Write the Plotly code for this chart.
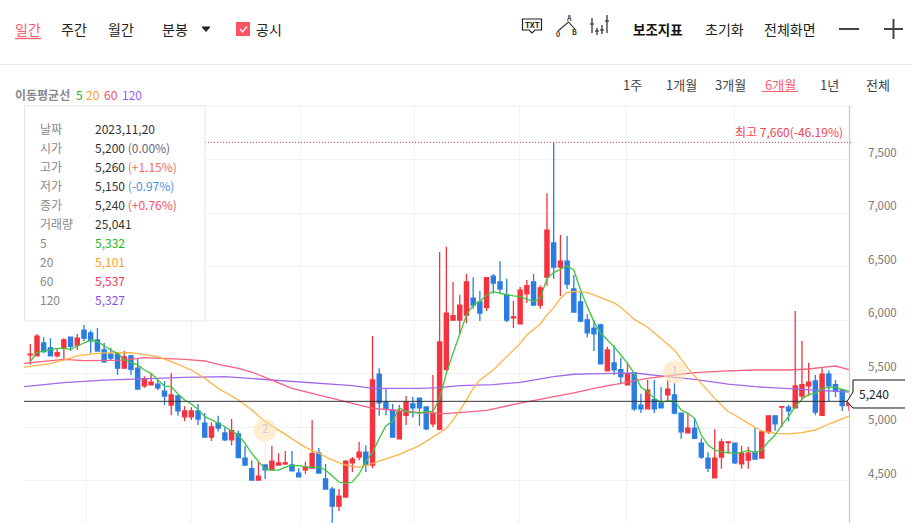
import plotly.graph_objects as go

# ---------- candle data (won) ----------
sessions = list(range(1, 124))
opens = [5675,5665,5785,5740,5665,5740,5840,5765,5905,5880,5815,5720,5680,5680,5550,5665,5550,5385,5395,5400,
         5335,5205,5290,5095,5095,5150,5035,4905,5035,4945,4880,4935,4710,4610,4505,4645,4600,4645,4655,4645,
         4570,4600,4615,4755,4515,4420,4260,4345,4665,4720,4765,4645,5495,5235,5160,4890,5110,5215,5270,5187,
         5030,4980,5540,6000,6000,6045,6205,6170,6115,6410,6355,6235,6020,5965,6245,6355,6140,6400,6720,6495,
         6550,6290,6170,6000,5925,5955,5525,5600,5535,5395,5505,5205,5170,5255,5225,5300,5300,5130,4945,4990,
         4850,4710,4525,4720,4855,4850,4655,4690,4765,4710,4955,5105,5185,5185,5180,5290,5385,5430,5110,5495,
         5395,5345,5200]
highs = [5775,5870,5840,5830,5735,5830,5840,5870,5955,5905,5925,5785,5740,5690,5710,5675,5635,5475,5495,5450,
         5430,5505,5300,5195,5185,5215,5130,5045,5105,5000,5075,4965,4825,4690,4675,4645,4825,4755,4775,4775,
         4615,4675,5065,4805,4655,4440,4420,4690,4720,4860,4830,5850,5550,5355,5215,5205,5290,5280,5270,5187,
         5485,6635,6685,6355,6235,6430,6400,6270,6400,6430,6550,6385,6180,6310,6375,6430,6325,7185,7660,6795,
         6785,6420,6255,6055,6000,5965,5750,5765,5645,5600,5505,5310,5440,5440,5375,5440,5410,5130,5130,5085,
         4895,4765,4980,4890,4870,4850,4825,4815,4990,4970,5105,5105,5195,5205,6085,5805,5600,5485,5550,5525,
         5440,5355,5260]
lows = [5585,5665,5690,5665,5650,5630,5710,5720,5805,5690,5710,5600,5625,5485,5550,5485,5355,5365,5395,5345,
        5205,5110,5105,5055,5065,5020,4905,4870,4955,4870,4830,4715,4645,4505,4505,4515,4600,4645,4645,4590,
        4535,4560,4615,4570,4420,4105,4215,4345,4580,4690,4580,4615,5105,5110,4900,4890,5020,5090,5010,4970,
        5000,4970,5525,5990,5870,5970,6105,5990,6085,6245,6245,5980,5925,5965,6160,6130,6105,6320,6385,6225,
        6290,6075,5980,5840,5710,5590,5525,5485,5400,5395,5150,5130,5170,5130,5180,5245,5120,4890,4945,4895,
        4700,4580,4525,4610,4750,4655,4610,4610,4700,4710,4935,4965,5000,5055,5170,5255,5290,5110,5110,5235,
        5280,5150,5150]
closes = [5680,5850,5705,5665,5695,5815,5755,5830,5830,5805,5710,5610,5645,5550,5655,5540,5355,5450,5420,5365,
          5290,5300,5150,5150,5150,5075,4905,5000,4990,4880,4965,4715,4645,4505,4540,4600,4680,4665,4665,4590,
          4535,4625,4750,4570,4420,4260,4355,4680,4700,4765,4645,5440,5225,5170,4905,5150,5235,5180,5178,4982,
          5130,5795,6065,6040,6140,6355,6140,6065,6395,6345,6290,6000,6030,6280,6320,6140,6300,6840,6495,6550,
          6335,6075,5990,5880,5870,5590,5720,5535,5470,5495,5170,5170,5345,5170,5180,5355,5130,4955,4990,4895,
          4720,4615,4710,4860,4860,4665,4755,4755,4700,4955,5105,5030,5190,5150,5385,5395,5420,5140,5495,5385,
          5340,5200,5240]

# ---------- moving averages, read at the marked sessions ----------
ma5_x = list(range(1, 124))
ma5_y = [5610,5698,5710,5726,5735,5735,5726,5757,5788,5813,5798,5757,5720,5688,5632,5601,5580,5533,5502,5439,
         5383,5377,5308,5252,5215,5165,5097,5066,5034,5003,4963,4925,4847,4754,4676,4608,4598,4598,4626,4642,
         4639,4629,4620,4626,4598,4542,4486,4474,4486,4561,4679,4760,4894,5009,5056,5181,5143,5134,5131,5144,
         5144,5268,5502,5689,5876,6047,6141,6172,6234,6268,6250,6234,6225,6218,6194,6172,6203,6390,6443,6474,
         6505,6468,6281,6125,5985,5876,5814,5751,5673,5595,5502,5371,5330,5268,5228,5246,5243,5159,5128,5081,
         4925,4832,4785,4767,4760,4754,4763,4782,4760,4785,4863,4925,5019,5097,5190,5259,5305,5315,5361,5371,
         5371,5352,5332]
ma20_x = [0,3,4,6,8,10,12,16,18,20,22,25,27,29,32,34,36,38,40,42,44,46,48,50,52,54,56,59,63,64,65,66,67,68,70,
          74,75,77,78,79,80,81,82,84,86,88,89,91,93,95,97,99,101,103,105,106,108,110,112,114,116,118,120,123]
ma20_y = [5560,5580,5592,5626,5664,5682,5692,5695,5679,5657,5611,5533,5455,5361,5252,5159,5050,4972,4894,4810,
          4754,4692,4645,4623,4660,4704,4745,4826,4985,5066,5153,5253,5362,5440,5533,
          5782,5860,5963,6047,6115,6203,6256,6268,6259,6208,6160,6120,6006,5932,5829,5720,5548,5408,5268,5143,
          5112,5034,4963,4941,4935,4947,4972,5028,5101]
ma60_x = [0,3,6,9,12,15,18,21,24,27,29,32,34,37,40,43,46,49,52,55,59,63,69,74,77,82,85,87,90,93,97,100,105,106,109,114,117,120,121,123]
ma60_y = [5595,5611,5632,5620,5620,5626,5648,5642,5632,5617,5586,5548,5514,5439,5361,5315,5268,5221,5174,5159,5134,
          5125,5155,5224,5259,5320,5362,5386,5424,5455,5486,5508,5524,5528,5533,5533,5542,5564,5570,5537]
ma120_x = [0,6,12,18,24,30,37,43,49,52,55,59,62,65,70,74,79,82,86,91,97,100,105,109,114,117,123]
ma120_y = [5377,5414,5439,5455,5464,5470,5439,5417,5386,5361,5358,5361,5368,5387,5396,5418,5471,5493,5499,5505,5464,
           5446,5400,5377,5358,5346,5327]

# ---------- axis ----------
price_ticks = [4500, 5000, 5500, 6000, 6500, 7000, 7500]
price_labels = ["4,500", "5,000", "5,500", "6,000", "6,500", "7,000", "7,500"]
grid_sessions = [9.4, 24.95, 41.2, 58.3, 73.96, 89.9, 106]
high_price = 7660
last_price = 5240

# ---------- texts ----------
nav_left = [("일간", 28, "#ff5a6e"), ("주간", 74, "#222"), ("월간", 121, "#222"), ("분봉", 175, "#222"), ("공시", 269, "#222")]
nav_right = [("보조지표", 658, "#111", True), ("초기화", 724, "#222", False), ("전체화면", 790, "#222", False)]
ranges = [("1주", 632, "#444"), ("1개월", 681, "#444"), ("3개월", 730, "#444"), ("6개월", 780, "#ff5a6e"), ("1년", 829, "#444"), ("전체", 878, "#444")]
tip_rows = [("날짜", "2023,11,20", "", "#555"), ("시가", "5,200", "(0.00%)", "#667"), ("고가", "5,260", "(+1.15%)", "#f4695c"),
            ("저가", "5,150", "(-0.97%)", "#4a8fe0"), ("종가", "5,240", "(+0.76%)", "#f4516a"), ("거래량", "25,041", "", "#555")]
tip_ma = [("5", "5,332", "#21b621"), ("20", "5,101", "#ff9f1c"), ("60", "5,537", "#f5335a"), ("120", "5,327", "#8a4fe8")]
ma_legend = [("5", 79, "#21b621"), ("20", 93, "#ff9f1c"), ("60", 111, "#f5476a"), ("120", 132, "#9a5cf0")]

FONT = "Noto Sans CJK KR"
L, R, T, B = 24, 850, 106, 523


def px(x):
    return (x - L) / (R - L)


def py(y):
    return (B - y) / (B - T)


fig = go.Figure()

fig.add_trace(go.Candlestick(
    x=sessions, open=opens, high=highs, low=lows, close=closes,
    increasing=dict(line=dict(color="#f5333f", width=1.3), fillcolor="#f5333f"),
    decreasing=dict(line=dict(color="#2b7de1", width=1.3), fillcolor="#2b7de1"),
    whiskerwidth=0, showlegend=False, hoverinfo="skip",
))
for xs, ys, col in [(ma120_x, ma120_y, "#a368ea"), (ma60_x, ma60_y, "#f8617f"), (ma20_x, ma20_y, "#ffb347"), (ma5_x, ma5_y, "#3fc63f")]:
    fig.add_trace(go.Scatter(x=xs, y=ys, mode="lines", line=dict(color=col, width=1.3, shape="linear"),
                             showlegend=False, hoverinfo="skip"))

# disclosure markers
fig.add_trace(go.Scatter(x=[36, 97], y=[4972, 5514], mode="markers+text", text=["2", "1"],
                         textposition="middle center", textfont=dict(color="#cfcfcf", size=12, family=FONT),
                         marker=dict(size=23, color="rgba(252,226,180,0.6)"), showlegend=False, hoverinfo="skip"))

shapes = []
ann = []


def text(x, y, s, color="#222", size=14, anchor="center", **kw):
    ann.append(dict(x=px(x), y=py(y), xref="paper", yref="paper", text=s, showarrow=False, xanchor=anchor, yanchor="middle",
                    borderpad=0, borderwidth=0, font=dict(family=FONT, size=size, color=color), **kw))


def pline(x0, y0, x1, y1, color="#333", width=1, dash="solid", layer="above"):
    shapes.append(dict(type="line", xref="paper", yref="paper", x0=px(x0), y0=py(y0), x1=px(x1), y1=py(y1),
                       line=dict(color=color, width=width, dash=dash), layer=layer))


def ppath(points, color="#333", width=1, fill=None, close=False):
    d = "M" + " L".join(f"{px(a):.5f},{py(b):.5f}" for a, b in points) + (" Z" if close else "")
    shapes.append(dict(type="path", xref="paper", yref="paper", path=d, line=dict(color=color, width=width),
                       fillcolor=fill if fill else "rgba(0,0,0,0)", layer="above"))


# frame
pline(0, 64.5, 912, 64.5, "#e8e8e8", 1)
pline(24, 106, 853, 106, "#f0f0f0", 1, layer="below")
pline(849.5, 106, 849.5, 523, "#c9c9c9", 1.2)

# last price + high price lines
shapes.append(dict(type="line", xref="paper", yref="y", x0=0, x1=1, y0=last_price, y1=last_price, line=dict(color="#333", width=1), layer="above"))
shapes.append(dict(type="line", xref="paper", yref="y", x0=px(205), x1=px(853), y0=high_price, y1=high_price, line=dict(color="#d9344a", width=1, dash="1px,2px"), layer="above"))
# disclosure stems
shapes.append(dict(type="line", xref="x", yref="y", x0=36, x1=36, y0=4869, y1=4645, line=dict(color="rgba(252,226,180,0.8)", width=1), layer="below"))

# tooltip box
ppath([(24.5, 106), (205, 106), (205, 321), (24.5, 321)], "#e6e6e6", 1, "#ffffff", True)
rows_y = [128.3, 147.3, 166.3, 185.3, 204.3, 223.3]
for (lab, val, pct, col), y in zip(tip_rows, rows_y):
    text(40, y, lab, "#888", 12, "left")
    s = f"<span style='color:#333'>{val}</span>" + (f" <span style='color:{col}'>{pct}</span>" if pct else "")
    text(95, y, s, "#333", 12, "left")
for (lab, val, col), y in zip(tip_ma, [242.3, 261.7, 280.7, 299.7]):
    text(40, y, lab, "#888", 12, "left")
    text(95, y, val, col, 12, "left")

# header navigation
for s, x, c in nav_left:
    text(x, 29, s, c, 14)
for s, x, c, b in nav_right:
    text(x, 29, f"<b>{s}</b>" if b else s, c, 14 if not b else 13.5)
pline(15, 38.5, 41, 38.5, "#ff5a6e", 1.3)
ppath([(202, 27), (210, 27), (206, 31.5)], "#222", 1, "#222", True)
ppath([(236, 22), (250, 22), (250, 36), (236, 36)], "#ff5260", 0, "#ff5260", True)
ppath([(240, 29), (242.5, 32), (247, 26.5)], "#ffffff", 1.2)

# tool icons
ppath([(522.5, 19), (541.5, 19), (541.5, 30), (535, 30), (532, 33), (529, 30), (522.5, 30)], "#222", 1.2, None, True)
text(532, 24.5, "<b>TXT</b>", "#222", 8)
ppath([(558, 31), (568.5, 22), (575, 29)], "#333", 1.1)
text(568.5, 18, "<b>A</b>", "#333", 7)
text(558, 34, "<b>0</b>", "#333", 7)
text(574, 32, "<b>B</b>", "#333", 7)
for x, y0, y1 in [(592, 18, 33), (597, 28, 35), (602, 25, 34), (607, 15, 33)]:
    pline(x, y0, x, y1, "#333", 1.3)
pline(590, 24, 594, 24, "#333", 1.2)
pline(595, 31, 599, 31, "#333", 1.2)
pline(600, 30, 604, 30, "#333", 1.2)
pline(605, 21, 609, 21, "#333", 1.2)
pline(839, 29, 859, 29, "#444", 2)
pline(884, 29, 903, 29, "#444", 2)
pline(893.5, 19, 893.5, 39, "#444", 2)

# MA legend
text(15, 94.5, "<b>이동평균선</b>", "#8a8a8a", 12, "left")
for s, x, c in ma_legend:
    text(x, 94.5, s, c, 12)

# range buttons
for s, x, c in ranges:
    text(x, 84, s, c, 13)
pline(762, 91.5, 798, 91.5, "#ff5a6e", 1.2)

# high label
text(843, 131.5, "최고 7,660(-46.19%)", "#ee4455", 12, "right")

# price tag
ppath([(905, 380), (853, 380), (853, 392), (847, 401.5), (853, 408), (905, 408)], "#111", 1, "#ffffff")
text(874, 393, "5,240", "#222", 12)

fig.update_layout(
    width=912, height=523, autosize=False,
    margin=dict(l=L, r=912 - R, t=T, b=0, pad=0),
    paper_bgcolor="#ffffff", plot_bgcolor="#ffffff",
    hovermode=False, showlegend=False, boxgap=0.12,
    shapes=shapes, annotations=ann,
    xaxis=dict(range=[0.06, 123.16], tickmode="array", tickvals=grid_sessions, showticklabels=False, ticks="",
               showgrid=True, gridcolor="#f2f2f2", gridwidth=1.3, zeroline=False, rangeslider=dict(visible=False),
               showline=False, fixedrange=True),
    yaxis=dict(range=[4103, 8000], side="right", tickmode="array", tickvals=price_ticks, ticktext=price_labels,
               showgrid=True, gridcolor="#f2f2f2", gridwidth=1.3, zeroline=False, ticks="", showline=False,
               tickfont=dict(family=FONT, size=11.5, color="#777"), ticklabelstandoff=17, ticklabelshift=-7, fixedrange=True),
)
fig.write_html("out.html", config=dict(displayModeBar=False),
               post_script="document.body.style.margin='0';document.documentElement.style.overflow='hidden';")
